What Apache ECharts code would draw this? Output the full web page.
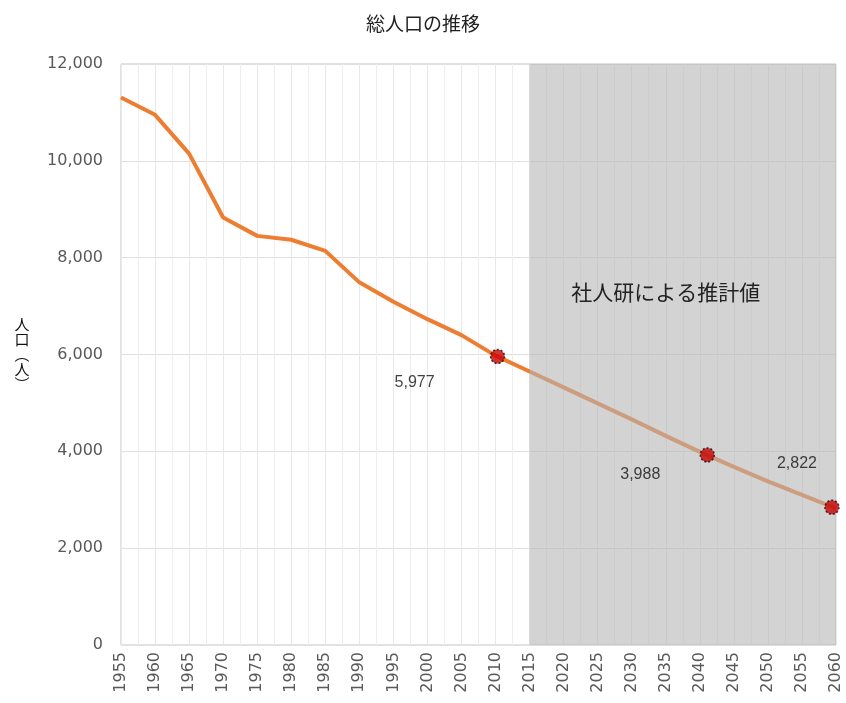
<!DOCTYPE html>
<html>
<head>
<meta charset="utf-8">
<script src="https://cdn.jsdelivr.net/npm/echarts@6/dist/echarts.min.js"></script>
<style>html,body{margin:0;padding:0;background:#fff}#c{width:846px;height:703px}</style>
</head>
<body>
<div id="c"></div>
<script>
const years = [1955,1960,1965,1970,1975,1980,1985,1990,1995,2000,2005,2010,2015,2020,2025,2030,2035,2040,2045,2050,2055,2060];
const population = [11310,10950,10150,8830,8450,8370,8140,7490,7090,6730,6400,5977,5650,5320,4990,4660,4320,3988,3680,3380,3100,2822];
const projectionRange = [2015, 2060];
const markerYears = [2010.3, 2041.1, 2059.4];
const markerValues = [5960, 3925, 2845];
const markerLabels = ['5,977', '3,988', '2,822'];
const yTicks = [0, 2000, 4000, 6000, 8000, 10000, 12000];
const titleText = '総人口の推移';
const areaText = '社人研による推計値';
const yName = '人\n口\n︵\n人\n︶';

const labelOffsets = [[-83, 26], [-67, 20], [-35, -44]];
const chart = echarts.init(document.getElementById('c'));
chart.setOption({
  animation: false,
  title: {
    text: titleText, left: 'center', top: 9,
    textStyle: { fontFamily: 'Noto Sans CJK JP', fontSize: 19, fontWeight: 'normal', color: '#222' }
  },
  grid: { left: 121, right: 10, top: 64, bottom: 58, show: true, borderColor: '#c4c4c4', borderWidth: 1, backgroundColor: 'transparent' },
  xAxis: {
    type: 'value', min: years[0], max: years[years.length - 1], interval: 5,
    axisLine: { show: false }, axisTick: { show: false },
    axisLabel: { rotate: 90, margin: 7, fontFamily: 'DejaVu Sans', fontSize: 16, color: '#595959', formatter: v => String(v) },
    splitLine: { show: true, lineStyle: { color: '#e8e8e8', width: 1 } },
    minorTick: { show: false, splitNumber: 2 },
    minorSplitLine: { show: true, lineStyle: { color: '#eeeeee', width: 1 } }
  },
  yAxis: {
    type: 'value', min: yTicks[0], max: yTicks[yTicks.length - 1], interval: 2000,
    axisLine: { show: false }, axisTick: { show: false },
    axisLabel: { margin: 18, fontFamily: 'DejaVu Sans', fontSize: 16, color: '#595959',
      formatter: v => v.toLocaleString('en-US') },
    splitLine: { show: true, lineStyle: { color: '#e0e0e0', width: 1 } },
    name: yName, nameLocation: 'middle', nameRotate: 0, nameGap: 99,
    nameTextStyle: { fontFamily: 'Noto Sans CJK JP', fontSize: 15, color: '#111', lineHeight: 15, align: 'center', verticalAlign: 'middle', padding: [8, 0, 0, 0] }
  },
  series: [
    {
      type: 'line', z: 2, symbol: 'none',
      data: years.map((y, i) => [y, population[i]]),
      lineStyle: { color: '#ED7D31', width: 4 }
    },
    {
      type: 'line', z: 3, data: [], symbol: 'none',
      markArea: {
        z: 3, silent: true,
        itemStyle: { color: 'rgba(180,180,180,0.59)' },
        label: { show: true, position: 'inside', offset: [-17, -62], formatter: areaText,
          fontFamily: 'Noto Sans CJK JP', fontSize: 21, color: '#222' },
        data: [[{ xAxis: projectionRange[0] }, { xAxis: projectionRange[1] }]]
      }
    },
    {
      type: 'scatter', z: 5, symbol: 'circle', symbolSize: 14,
      itemStyle: { color: '#c80000', borderColor: '#111', borderWidth: 1.5, borderType: [2, 2] },
      data: markerYears.map((y, i) => ({
        value: [y, markerValues[i]],
        label: { show: true, offset: labelOffsets[i], formatter: markerLabels[i] }
      })),
      label: { position: 'inside', fontFamily: 'Liberation Sans', fontSize: 16, color: '#111' }
    }
  ]
});
</script>
</body>
</html>
